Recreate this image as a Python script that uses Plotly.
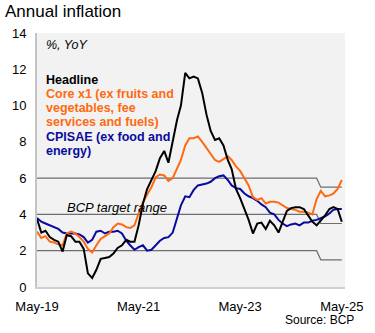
import pandas as pd
import plotly.graph_objects as go

# ---- data ----
start_month = "2019-05-01"
n_months = 73
months = pd.date_range(start_month, periods=n_months, freq="MS")

headline = [3.75, 3.0, 3.1, 2.75, 2.6, 2.5, 1.95, 2.85, 2.8, 2.5,
            2.5, 2.1, 0.75, 0.5, 0.95, 1.55, 1.6, 1.65, 1.85, 2.15,
            2.3, 2.6, 2.5, 2.5, 3.4, 4.6, 5.4, 5.9, 6.4, 7.1,
            7.5, 6.85, 8.1, 9.2, 10.0, 11.8, 11.5, 11.6, 11.5, 10.7,
            9.5, 8.6, 8.1, 8.2, 7.8, 7.0, 6.5, 5.4, 4.9, 4.3,
            3.7, 2.95, 3.5, 3.55, 3.2, 3.65, 3.4, 3.0, 3.6, 4.2,
            4.35, 4.4, 4.4, 4.3, 3.95, 3.6, 3.4, 3.65, 3.95, 4.3,
            4.4, 4.3, 3.6]

core_x1 = [3.05, 2.7, 2.8, 2.5, 2.45, 2.35, 2.3, 2.95, 3.05, 2.95,
           2.75, 2.5, 2.1, 1.9, 2.3, 2.65, 2.8, 2.95, 3.3, 3.5,
           3.45, 3.3, 3.25, 3.4, 4.05, 4.65, 5.1, 5.5, 6.05, 6.2,
           6.15, 5.85, 6.0, 6.5, 7.0, 7.8, 8.2, 8.2, 8.3, 8.0,
           7.65, 7.3, 7.0, 6.9, 7.05, 7.2, 7.0, 6.65, 6.4, 6.0,
           5.6, 4.95, 4.8, 4.9, 4.6, 4.7, 4.7, 4.65, 4.5, 4.35,
           4.3, 4.25, 4.15, 4.15, 4.1, 4.0, 4.85, 5.3, 5.0, 5.05,
           5.15, 5.4, 5.9]

cpisae = [3.8, 3.6, 3.5, 3.4, 3.3, 3.2, 3.0, 2.95, 2.95, 2.95,
          2.9, 2.75, 2.45, 2.6, 3.05, 3.1, 2.95, 3.05, 3.05, 3.1,
          2.95, 2.55, 2.3, 2.05, 2.2, 2.3, 2.0, 2.05, 2.3, 2.55,
          2.7, 2.75, 3.0, 3.8, 4.5, 5.0, 4.95, 5.35, 5.6, 5.65,
          5.7, 5.8, 6.0, 6.1, 6.15, 5.9, 5.6, 5.45, 5.4, 5.15,
          5.0, 4.9, 4.75, 4.55, 4.4, 4.1, 4.0, 3.7, 3.5, 3.35,
          3.45, 3.5, 3.4, 3.55, 3.55, 3.65, 3.7, 3.8, 3.9, 4.05,
          4.25, 4.3, 4.3]

target_dates = ["2019-05-01", "2024-11-01", "2024-12-01", "2025-05-01"]
target_upper = [6.0, 6.0, 5.5, 5.5]
target_mid = [4.0, 4.0, 3.5, 3.5]
target_lower = [2.0, 2.0, 1.5, 1.5]

tick_dates = ["2019-05-01", "2021-05-01", "2023-05-01", "2025-05-01"]
tick_labels = ["May-19", "May-21", "May-23", "May-25"]
y_ticks = [0, 2, 4, 6, 8, 10, 12, 14]

# ---- styling ----
W, H = 375, 333
L, R, T, B = 28, 22, 33, 46
FONT = "Liberation Sans, Arial, sans-serif"
BLACK = "#000000"
ORANGE = "#FF6A10"
BLUE = "#0A0A9E"
GREY = "#6E6E6E"


def px(xp):
    return (xp - L) / (W - L - R)


def py(yp):
    return (H - B - yp) / (H - T - B)


fig = go.Figure()
for vals in (target_upper, target_mid, target_lower):
    fig.add_trace(go.Scatter(x=target_dates, y=vals, mode="lines",
                             line=dict(color=GREY, width=1.2),
                             hoverinfo="skip", showlegend=False))

for vals, col in ((cpisae, BLUE), (core_x1, ORANGE), (headline, BLACK)):
    fig.add_trace(go.Scatter(x=months, y=vals, mode="lines",
                             line=dict(color=col, width=2),
                             showlegend=False))

ann = []
ann.append(dict(text="%, YoY", x=px(35), y=py(45), xanchor="left", yanchor="middle",
                font=dict(size=12.5, color=BLACK, family=FONT, style="italic"), showarrow=False))
legend_lines = [
    ("<b>Headline</b>", BLACK, 80),
    ("<b>Core x1 (ex fruits and</b>", ORANGE, 94),
    ("<b>vegetables, fee</b>", ORANGE, 108),
    ("<b>services and fuels)</b>", ORANGE, 122),
    ("<b>CPISAE (ex food and</b>", BLUE, 136.5),
    ("<b>energy)</b>", BLUE, 150.5),
]
for txt, col, yy in legend_lines:
    ann.append(dict(text=txt, x=px(35), y=py(yy), xanchor="left", yanchor="middle",
                    font=dict(size=12.5, color=col, family=FONT), showarrow=False))
ann.append(dict(text="BCP target range", x=px(58), y=py(207), xanchor="left", yanchor="middle",
                font=dict(size=13, color=BLACK, family=FONT, style="italic"), showarrow=False))
ann.append(dict(text="Source: BCP", x=px(365), y=py(320), xanchor="right", yanchor="middle",
                font=dict(size=12, color=BLACK, family=FONT), showarrow=False))
for a in ann:
    a["xref"] = "paper"
    a["yref"] = "paper"

fig.update_layout(
    width=W, height=H,
    margin=dict(l=L, r=R, t=T, b=B, pad=0),
    paper_bgcolor="white",
    plot_bgcolor="#F2F2F2",
    font=dict(family=FONT, color=BLACK),
    title=dict(text="Annual inflation", x=5 / W, xanchor="left", xref="container",
               y=1 - 11 / H, yanchor="middle", yref="container",
               font=dict(size=17, color=BLACK, family=FONT)),
    annotations=ann,
    xaxis=dict(type="date", range=["2019-05-01", "2025-05-24"],
               tickvals=tick_dates, ticktext=tick_labels,
               showgrid=False, zeroline=False, showline=True,
               linecolor="#D0D0D0", linewidth=2, ticks="",
               tickfont=dict(size=13, color=BLACK, family=FONT),
               ticklabelstandoff=6),
    yaxis=dict(range=[0, 14], tickvals=y_ticks,
               showgrid=False, zeroline=False, showline=True,
               linecolor="#C4C4C4", linewidth=2, ticks="",
               tickfont=dict(size=13, color=BLACK, family=FONT),
               ticklabelstandoff=6),
)

fig.write_html("out.html")
